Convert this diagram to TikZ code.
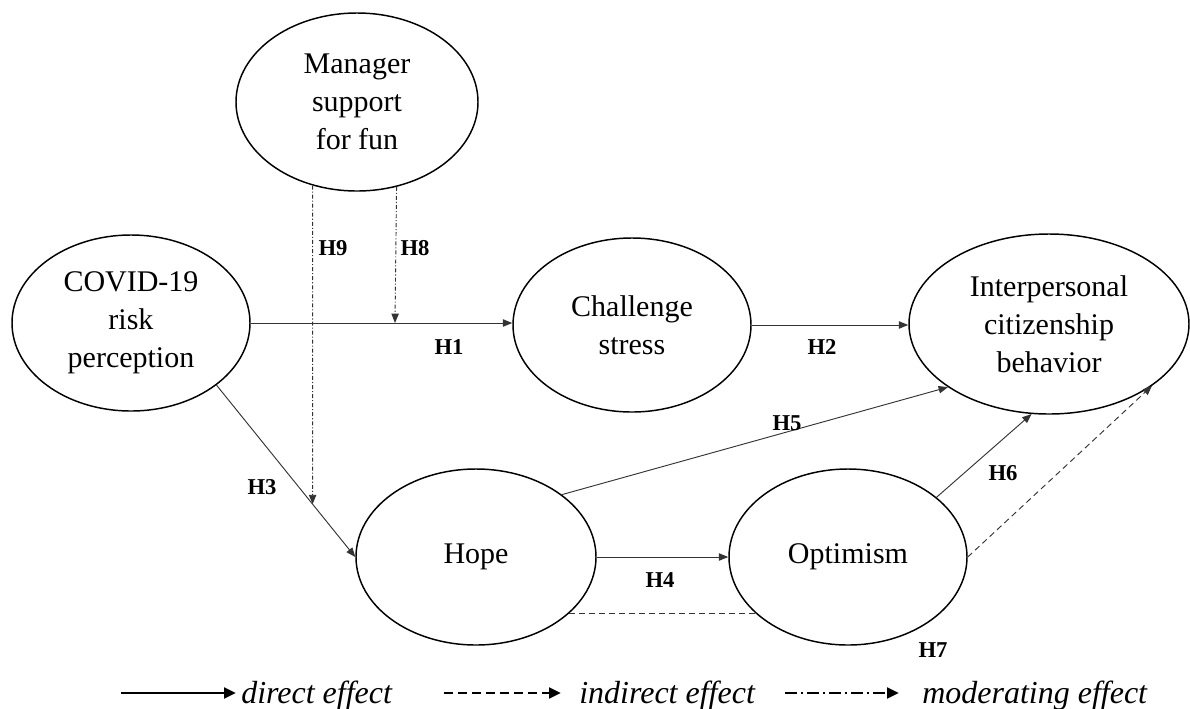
\documentclass[tikz,border=0pt]{standalone}
\usepackage{fontspec}
\setmainfont{Liberation Serif}
\usetikzlibrary{shapes.geometric,arrows.meta,intersections,calc}
\begin{document}
\begin{tikzpicture}[x=0.75pt,y=-0.75pt,
 latent/.style={draw,ellipse,line width=1.1pt,inner sep=0pt,align=center,font=\fontsize{22.5}{28.5}\selectfont},
 conn/.style={line width=0.7pt,draw=black!80,-{Triangle[length=7pt,width=5.5pt]}},
 plainline/.style={line width=0.7pt,draw=black!80},
 indir/.style={conn,dash pattern=on 4.5pt off 3pt},
 modr/.style={conn,dash pattern=on 3pt off 1.5pt on 0.8pt off 1.5pt},
 hyp/.style={font=\bfseries\fontsize{17}{20}\selectfont,inner sep=0pt},
 legtext/.style={anchor=base west,font=\itshape\fontsize{24}{28}\selectfont,inner sep=0pt},
 legarrow/.style={line width=2.2pt,-{Triangle[length=9pt,width=8pt]}}
]
\useasboundingbox (0,0) rectangle (1190,708);

% constructs
\node[latent, minimum width=181.5pt, minimum height=133.5pt] (msf) at (357,102) {Manager\\support\\for fun};
\node[latent, minimum width=178.5pt, minimum height=132pt] (cov) at (131,323) {COVID-19\\risk\\perception};
\node[latent, minimum width=178.5pt, minimum height=130.5pt] (chs) at (632,325) {Challenge\\stress};
\node[latent, minimum width=210pt, minimum height=135pt] (icb) at (1049,324) {Interpersonal\\citizenship\\behavior};
\node[latent, minimum width=180pt, minimum height=132pt] (hop) at (476,557) {Hope};
\node[latent, minimum width=178.5pt, minimum height=132pt] (opt) at (848,557) {Optimism};

% direct paths
\draw[conn] (cov.east) -- (cov.east -| chs.west);
\draw[conn] (chs.east) -- (chs.east -| icb.west);
\draw[conn, name path=h3] (cov.-36) -- (hop.west);
\draw[conn] (hop.east) -- (opt.west);
\draw[conn] (hop.36) -- (icb.212.5);
\draw[conn] (opt.34.4) -- (icb.259.8);

% indirect paths
\draw[indir] (opt.east) -- (icb.-31.6);
\draw[plainline, dash pattern=on 4.5pt off 3pt] (hop.-31) -- (hop.-31 -| opt.211.5);

% moderating paths
\coordinate (m8) at (395,323);
\draw[modr] (msf.-65.8) -- (m8);
\path[name path=v9] (msf.-118) -- ++(0,500);
\path[name intersections={of=h3 and v9, by=m9}];
\draw[modr] (msf.-118) -- (m9);

% hypothesis labels
\node[hyp] (H1) at (449,347) {H1};
\node[hyp] (H2) at (822,347) {H2};
\node[hyp] (H3) at (262,487) {H3};
\node[hyp] (H4) at (660,580) {H4};
\node[hyp] (H5) at (787,423) {H5};
\node[hyp] (H6) at (1003,473) {H6};
\node[hyp] (H7) at (933,650) {H7};
\node[hyp] (H8) at (415,248) {H8};
\node[hyp] (H9) at (333,248) {H9};

% legend
\coordinate (l1s) at (121,693); \coordinate (l1e) at (236,693);
\draw[legarrow] (l1s) -- (l1e);
\node[legtext] (l1t) at (241,703) {direct effect};
\coordinate (l2s) at (444,693); \coordinate (l2e) at (561,693);
\draw[legarrow, dash pattern=on 6.5pt off 4pt] (l2s) -- (l2e);
\node[legtext] (l2t) at (579,703) {indirect effect};
\coordinate (l3s) at (785,693); \coordinate (l3e) at (899,693);
\draw[legarrow, dash pattern=on 9pt off 3pt on 1.5pt off 3pt] (l3s) -- (l3e);
\node[legtext] (l3t) at (922,703) {moderating effect};
\end{tikzpicture}
\end{document}
